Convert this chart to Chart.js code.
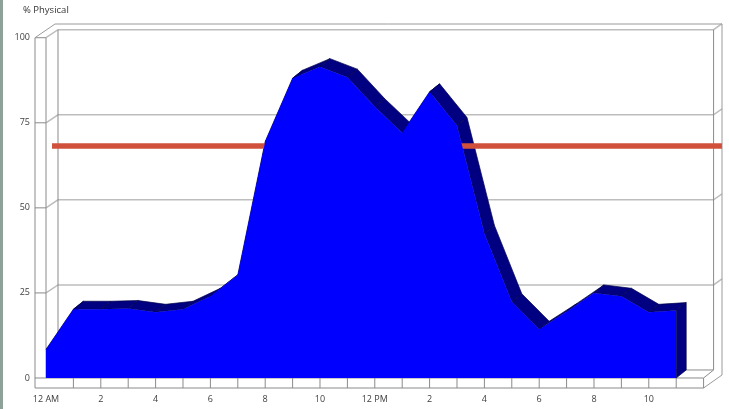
<!DOCTYPE html>
<html>
<head>
<meta charset="utf-8">
<script src="https://cdn.jsdelivr.net/npm/chart.js@4.4.1/dist/chart.umd.min.js"></script>
<style>
  html, body { margin: 0; padding: 0; background: #fff; }
  #wrap { position: relative; width: 729px; height: 409px; }
  #edge { position: absolute; left: 0; top: 0; width: 3px; height: 409px; background: #8fa29a; }
</style>
</head>
<body>
<div id="wrap">
  <canvas id="cpu" width="729" height="409"></canvas>
  <div id="edge"></div>
</div>
<script>
// Soatlar (0..23) va % Physical qiymatlari
const hours = [0, 1, 2, 3, 4, 5, 6, 7, 8, 9, 10, 11, 12, 13, 14, 15, 16, 17, 18, 19, 20, 21, 22, 23];
const physical = [8.4, 20.2, 20.2, 20.4, 19.3, 20.2, 24, 30.3, 69.5, 88.1, 91.5, 88.4,
                  79.7, 72.1, 84.1, 74.2, 42.5, 22.4, 14.3, 19.5, 25, 24, 19.3, 19.8];
const xTicks = [0, 2, 4, 6, 8, 10, 12, 14, 16, 18, 20, 22];
const xLabels = ['12 AM', '2', '4', '6', '8', '10', '12 PM', '2', '4', '6', '8', '10'];
const yTicks = [0, 25, 50, 75, 100];
const threshold = 68.2;          // qizil chiziq
const thresholdSpan = [0.22, 24.67];
const yTitle = '% Physical';

const FONT = "'Open Sans', 'Noto Sans', sans-serif";

// 3D ramka va maydonning yon yuzlari
const frame3d = {
  id: 'frame3d',
  beforeDatasetsDraw(chart) {
    const { ctx, chartArea: a, scales: { x, y } } = chart;
    const x0 = x.getPixelForValue(0);       // chap devor ichki qirrasi
    const xEnd = x.getPixelForValue(24);    // pol o'ng qirrasi
    const bl = x0 + 12, br = xEnd + 10, D = 8;
    const y0 = y.getPixelForValue(0), y100 = y.getPixelForValue(100);

    const line = (pts, color, w) => {
      ctx.beginPath();
      ctx.moveTo(pts[0][0], pts[0][1]);
      for (let i = 1; i < pts.length; i++) ctx.lineTo(pts[i][0], pts[i][1]);
      ctx.strokeStyle = color; ctx.lineWidth = w; ctx.stroke();
    };

    ctx.save();
    // orqa devor setkasi
    yTicks.slice(1).forEach(v => {
      const yf = y.getPixelForValue(v);
      line([[a.left, yf], [x0, yf]], '#8a8a8a', 1);
      line([[x0, yf], [bl, yf - D], [br, yf - D], [a.right, yf - D - 6]], '#bdbdbd', 1.5);
    });
    // tashqi yuqori qirra
    line([[a.left, y100], [bl - 3, a.top], [a.right, a.top], [a.right, y0 - 3], [xEnd, a.bottom]], '#9a9a9a', 1);
    // chap devor
    line([[a.left, y100], [a.left, a.bottom]], '#8a8a8a', 1);
    line([[x0, y100], [x0, y0]], '#8a8a8a', 1);
    line([[bl, y100 - D], [bl, y0 - D]], '#8a8a8a', 1);
    line([[br, y100 - D], [br, y0 - D]], '#8a8a8a', 1);
    // pol
    line([[a.left, y0], [xEnd, y0], [br, y0 - D], [bl, y0 - D]], '#8a8a8a', 1);
    line([[a.left, a.bottom], [xEnd, a.bottom], [xEnd, y0]], '#8a8a8a', 1);
    for (let h = 1; h < 24; h++) {
      const px = x.getPixelForValue(h);
      line([[px, y0], [px, a.bottom]], '#8a8a8a', 1);
    }

    // maydonning yuqori yon yuzlari
    const pts = chart.getDatasetMeta(0).data;
    const dx = 10, dy = -8;
    ctx.fillStyle = '#000080';
    ctx.strokeStyle = '#00004a';
    ctx.lineWidth = 0.7;
    for (let i = 0; i < pts.length - 1; i++) {
      const p = pts[i], q = pts[i + 1];
      ctx.beginPath();
      ctx.moveTo(p.x, p.y); ctx.lineTo(q.x, q.y);
      ctx.lineTo(q.x + dx, q.y + dy); ctx.lineTo(p.x + dx, p.y + dy);
      ctx.closePath(); ctx.fill(); ctx.stroke();
    }
    const last = pts[pts.length - 1];
    ctx.beginPath();
    ctx.moveTo(last.x, last.y); ctx.lineTo(last.x + dx, last.y + dy);
    ctx.lineTo(last.x + dx, y0 + dy); ctx.lineTo(last.x, y0);
    ctx.closePath(); ctx.fill(); ctx.stroke();
    ctx.restore();
  },
  // o'q sarlavhasi chap yuqorida
  afterDraw(chart) {
    const ctx = chart.ctx;
    ctx.save();
    ctx.font = '9.5px ' + FONT;
    ctx.fillStyle = '#333';
    ctx.textBaseline = 'middle';
    ctx.fillText(yTitle, 23, 10);
    ctx.restore();
  }
};

new Chart(document.getElementById('cpu'), {
  data: {
    datasets: [
      {
        type: 'line',
        data: hours.map((h, i) => ({ x: h, y: physical[i] })),
        fill: 'origin', backgroundColor: '#0000ff',
        borderWidth: 0, pointRadius: 0, tension: 0,
      },
      {
        type: 'line',
        data: thresholdSpan.map(h => ({ x: h, y: threshold })),
        borderColor: '#d1503b', borderWidth: 5.5, pointRadius: 0, fill: false,
        clip: false,
      },
    ],
  },
  options: {
    responsive: false, animation: false,
    layout: { padding: { left: 6, right: 7, top: 24, bottom: 0 } },
    plugins: {
      legend: { display: false },
      tooltip: { enabled: false },
      title: { display: false },
    },
    scales: {
      x: {
        type: 'linear', min: -0.4015, max: 24.672,
        grid: { display: false, drawTicks: false }, border: { display: false },
        afterBuildTicks: s => { s.ticks = xTicks.map(v => ({ value: v })); },
        afterFit: s => { s.height = 21; },
        ticks: {
          autoSkip: false, maxRotation: 0, padding: 6, color: '#404040',
          font: { family: FONT, size: 9 },
          callback: v => xLabels[xTicks.indexOf(v)],
        },
      },
      y: {
        min: -2.94, max: 104.03,
        grid: { display: false, drawTicks: false }, border: { display: false },
        afterBuildTicks: s => { s.ticks = yTicks.map(v => ({ value: v })); },
        afterFit: s => { s.width = 29; },
        ticks: { padding: 5, color: '#404040', font: { family: FONT, size: 9 } },
      },
    },
  },
  plugins: [frame3d],
});
</script>
</body>
</html>
